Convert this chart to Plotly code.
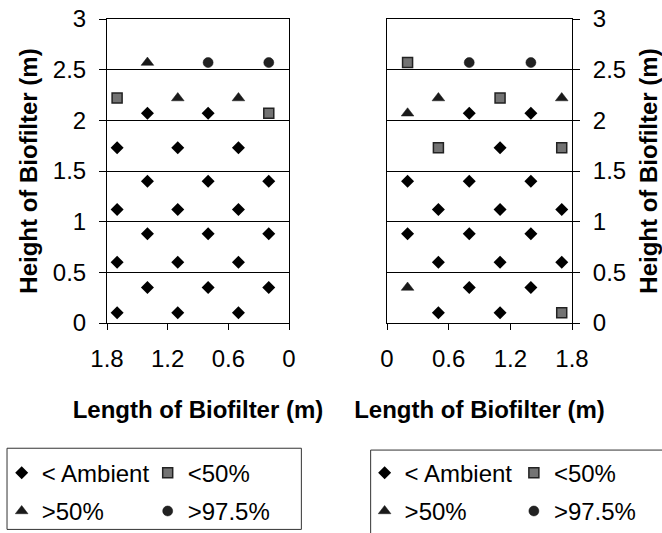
import plotly.graph_objects as go

# Sampling ports along the biofilter: length (m) and height (m) of each reading,
# grouped by the measured concentration class.

# Left-hand bed (length axis runs 1.8 -> 0)
left_ambient_x = [1.7, 1.1, 0.5, 1.4, 0.8, 0.2, 1.7, 1.1, 0.5, 1.4, 0.8, 0.2,
                  1.7, 1.1, 0.5, 1.4, 0.8, 0.2, 1.7, 1.1, 0.5, 1.4, 0.8]
left_ambient_y = [0.1, 0.1, 0.1, 0.35, 0.35, 0.35, 0.6, 0.6, 0.6, 0.88, 0.88, 0.88,
                  1.12, 1.12, 1.12, 1.4, 1.4, 1.4, 1.73, 1.73, 1.73, 2.07, 2.07]
left_lt50_x = [0.2, 1.7]
left_lt50_y = [2.07, 2.22]
left_gt50_x = [1.1, 0.5, 1.4]
left_gt50_y = [2.22, 2.22, 2.57]
left_gt975_x = [0.8, 0.2]
left_gt975_y = [2.57, 2.57]

# Right-hand bed (length axis runs 0 -> 1.8)
right_ambient_x = [0.5, 1.1, 0.8, 1.4, 0.5, 1.1, 1.7, 0.2, 0.8, 1.4,
                   0.5, 1.1, 1.7, 0.2, 0.8, 1.4, 1.1, 0.8, 1.4]
right_ambient_y = [0.1, 0.1, 0.35, 0.35, 0.6, 0.6, 0.6, 0.88, 0.88, 0.88,
                   1.12, 1.12, 1.12, 1.4, 1.4, 1.4, 1.73, 2.07, 2.07]
right_lt50_x = [1.7, 0.5, 1.7, 1.1, 0.2]
right_lt50_y = [0.1, 1.73, 1.73, 2.22, 2.57]
right_gt50_x = [0.2, 0.2, 0.5, 1.7]
right_gt50_y = [0.35, 2.07, 2.22, 2.22]
right_gt975_x = [0.8, 1.4]
right_gt975_y = [2.57, 2.57]

class_names = ["< Ambient", "<50%", ">50%", ">97.5%"]
length_ticks = [0, 0.6, 1.2, 1.8]
height_ticks = [0, 0.5, 1, 1.5, 2, 2.5, 3]

FONT = "Liberation Sans, Arial, sans-serif"

styles = {
    "< Ambient": dict(symbol="diamond", size=10, color="#000000",
                      line=dict(width=0)),
    "<50%": dict(symbol="square", size=10, color="#737373",
                 line=dict(color="#222222", width=1.5)),
    ">50%": dict(symbol="triangle-up", size=11, color="#1a1a1a",
                 line=dict(color="#1a1a1a", width=0.5)),
    ">97.5%": dict(symbol="circle", size=10, color="#222222",
                   line=dict(color="#111111", width=0.5)),
}

fig = go.Figure()

left_series = [(left_ambient_x, left_ambient_y), (left_lt50_x, left_lt50_y),
               (left_gt50_x, left_gt50_y), (left_gt975_x, left_gt975_y)]
right_series = [(right_ambient_x, right_ambient_y), (right_lt50_x, right_lt50_y),
                (right_gt50_x, right_gt50_y), (right_gt975_x, right_gt975_y)]

# two-column legend boxes: one legend per column
left_legends = ["legend", "legend2", "legend", "legend2"]
right_legends = ["legend3", "legend4", "legend3", "legend4"]

for i, name in enumerate(class_names):
    x, y = left_series[i]
    fig.add_trace(go.Scatter(x=x, y=y, mode="markers", name=name,
                             marker=styles[name], xaxis="x", yaxis="y",
                             legend=left_legends[i], legendgroup="L" + name))
for i, name in enumerate(class_names):
    x, y = right_series[i]
    fig.add_trace(go.Scatter(x=x, y=y, mode="markers", name=name,
                             marker=styles[name], xaxis="x2", yaxis="y2",
                             legend=right_legends[i], legendgroup="R" + name))

tick_font = dict(family=FONT, size=24, color="#000000")
title_font = dict(family=FONT, size=24, color="#000000", weight="bold")

common_x = dict(showline=True, linecolor="#000000", linewidth=1, mirror=True,
                ticks="outside", ticklen=6, tickcolor="#000000",
                tickvals=length_ticks, showgrid=False, zeroline=False,
                tickfont=tick_font, ticklabelstandoff=8)
common_y = dict(range=[0, 3], tickvals=height_ticks, showline=True,
                linecolor="#000000", linewidth=1, mirror=True,
                ticks="outside", ticklen=7, tickcolor="#000000",
                showgrid=True, gridcolor="#000000", gridwidth=1,
                zeroline=False, tickfont=tick_font, ticklabelstandoff=8)

legend_common = dict(orientation="v", bgcolor="rgba(0,0,0,0)", borderwidth=0,
                     font=dict(family=FONT, size=24, color="#000000"),
                     xanchor="left", yanchor="top", tracegroupgap=4,
                     itemclick=False, itemdoubleclick=False)

fig.update_layout(
    width=662, height=533,
    margin=dict(l=107.3, r=89.7, t=19, b=210, autoexpand=False),
    paper_bgcolor="#ffffff", plot_bgcolor="#ffffff",
    font=dict(family=FONT, color="#000000"),
    xaxis=dict(common_x, domain=[0, 0.3914], range=[1.8, 0], anchor="y",
               title=dict(text="Length of Biofilter (m)", font=title_font,
                          standoff=30)),
    yaxis=dict(common_y, domain=[0, 1], anchor="x",
               title=dict(text="Height of Biofilter (m)", font=title_font,
                          standoff=8)),
    xaxis2=dict(common_x, domain=[0.6022, 1], range=[0, 1.8], anchor="y2",
                title=dict(text="Length of Biofilter (m)", font=title_font,
                           standoff=30)),
    yaxis2=dict(common_y, domain=[0, 1], anchor="x2", side="right",
                title=dict(text="Height of Biofilter (m)", font=title_font,
                           standoff=15)),
    legend=dict(legend_common, x=-0.2265, y=-0.42),
    legend2=dict(legend_common, x=0.0875, y=-0.42),
    legend3=dict(legend_common, x=0.554, y=-0.42),
    legend4=dict(legend_common, x=0.875, y=-0.42),
    shapes=[
        dict(type="rect", xref="paper", yref="paper",
             x0=-0.215, x1=0.418, y0=-0.412, y1=-0.679,
             line=dict(color="#333333", width=1)),
        dict(type="rect", xref="paper", yref="paper",
             x0=0.567, x1=1.2, y0=-0.418, y1=-0.72,
             line=dict(color="#333333", width=1)),
    ],
    showlegend=True,
)

fig.write_html("out.html")
